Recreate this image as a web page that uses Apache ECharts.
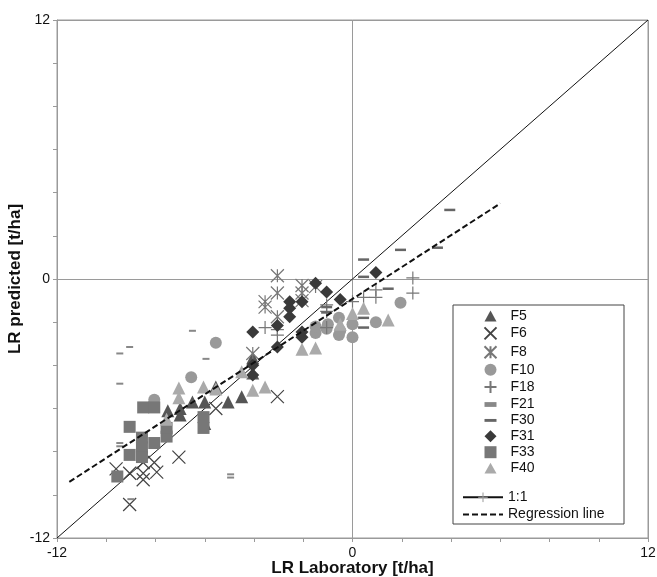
<!DOCTYPE html>
<html>
<head>
<meta charset="utf-8">
<script src="https://cdn.jsdelivr.net/npm/echarts@6/dist/echarts.min.js"></script>
<style>
  html, body { margin: 0; padding: 0; background: #fff; }
  #chart { width: 657px; height: 577px; }
</style>
</head>
<body>
<div id="chart"></div>
<script>
// values: [LR laboratory, LR predicted]
var f5 = [[-7.5,-6.1],[-7.0,-6.0],[-7.0,-6.3],[-6.5,-5.7],[-6.0,-5.7],[-6.0,-6.7],[-5.55,-5.0],[-5.05,-5.7],[-4.5,-5.45],[-4.05,-3.65],[-4.05,-4.35]];
var f6 = [[-9.05,-10.45],[-9.05,-9.0],[-8.5,-9.0],[-8.5,-9.3],[-8.05,-8.5],[-8.5,-8.5],[-7.95,-8.95],[-7.05,-8.25],[-5.55,-6.0],[-3.05,-5.45],[-9.6,-8.8]];
var f8 = [[-3.05,0.15],[-3.05,-0.65],[-3.55,-1.05],[-3.55,-1.3],[-2.05,-0.3],[-2.05,-0.65],[-1.5,-0.35],[-3.05,-1.75],[-4.05,-3.45],[-2.05,-1.0]];
var f10 = [[-5.55,-2.95],[-6.55,-4.55],[-8.05,-5.6],[-1.5,-2.5],[-1.05,-2.3],[-0.55,-1.8],[-0.55,-2.6],[0,-2.1],[0,-2.7],[0.95,-2.0],[1.95,-1.1],[-1.0,-2.1],[-0.5,-2.4],[-1.5,-2.2]];
var f18 = [[-3.55,-2.25],[-3.05,-2.35],[-1.05,-1.2],[-1.05,-1.5],[-1.05,-2.25],[0,-1.05],[0.45,-0.85],[0.95,-0.5],[0.95,-0.85],[2.45,0.05],[2.45,-0.65],[-3.05,-2.6]];
var f21 = [[-9.05,-3.15],[-9.45,-3.45],[-9.45,-4.85],[-5.95,-3.7],[-6.5,-2.4],[-9.45,-7.6],[-9.45,-7.75],[-4.95,-9.05],[-4.95,-9.2],[-9.0,-10.2]];
var f30 = [[0.45,0.9],[0.45,0.1],[1.95,1.35],[3.45,1.45],[1.45,-0.45],[0.45,-1.8],[0.45,-2.25],[-1.05,-1.3],[-1.05,-1.55],[3.95,3.2]];
var f31 = [[-1.5,-0.2],[-1.05,-0.6],[-0.5,-0.95],[-2.55,-1.05],[-2.55,-1.35],[-2.55,-1.75],[-2.05,-1.05],[-3.05,-2.15],[-4.05,-2.45],[-2.05,-2.45],[-2.05,-2.7],[-3.05,-3.15],[-4.05,-4.0],[-4.05,-4.45],[0.95,0.3]];
var f33 = [[-8.5,-5.95],[-8.05,-5.95],[-9.05,-6.85],[-8.55,-7.35],[-8.55,-7.8],[-8.55,-8.25],[-8.05,-7.6],[-7.55,-7.3],[-7.55,-6.9],[-9.05,-8.15],[-9.55,-9.15],[-6.05,-6.4],[-6.05,-6.9]];
var f40 = [[-2.05,-3.25],[-1.5,-3.2],[0,-1.6],[0.45,-1.35],[1.45,-1.9],[-0.5,-2.1],[-7.05,-5.05],[-7.05,-5.5],[-6.05,-5.0],[-5.55,-5.1],[-4.5,-4.3],[-4.05,-5.15],[-3.55,-5.0],[-7.55,-6.5]];
var oneToOne = [[-12,-12],[12,12]];
var regression = [[-11.5,-9.4],[6.0,3.5]];
var axisLabels = [-12, 0, 12];

var font = '"Liberation Sans", Arial, sans-serif';

var crossPath = 'path://M0,0L10,10M10,0L0,10';
var starPath = 'path://M0,0L10,10M10,0L0,10M5,0L5,10';
var plusPath = 'path://M5,0L5,10M0,5L10,5';
var triPath = 'path://M5,0L10,9L0,9Z';
var diaPath = 'path://M5,0L10,5L5,10L0,5Z';
var sqPath = 'path://M0,0L10,0L10,10L0,10Z';
var dashSmall = 'path://M0,0L5,0L5,2L0,2Z';
var dashLong = 'path://M0,0L10,0L10,2.4L0,2.4Z';

function scatter(name, data, symbol, size, color, stroke) {
  return {
    name: name,
    type: 'scatter',
    data: data,
    symbol: symbol,
    symbolSize: size,
    itemStyle: stroke
      ? { color: 'none', borderColor: color, borderWidth: 1.2, opacity: 1 }
      : { color: color, opacity: 1 }
  };
}

// main axis: ticks every 2, labels only at -12 / 0 / 12
function mainAxis(name, gap, margin) {
  return {
    type: 'value', min: -12, max: 12, interval: 2,
    name: name, nameLocation: 'middle', nameGap: gap, nameMoveOverlap: false,
    nameTextStyle: { fontSize: 17, fontWeight: 'bold', color: '#111', fontFamily: font },
    axisLine: { show: true, onZero: false, lineStyle: { color: '#9a9a9a' } },
    axisTick: { show: true, length: 4, lineStyle: { color: '#9a9a9a' } },
    axisLabel: {
      fontSize: 14, color: '#111', margin: margin,
      formatter: function (v) { return axisLabels.indexOf(v) >= 0 ? String(v) : ''; }
    },
    splitLine: { show: false }
  };
}

// helper axis only for the grey lines through zero
function zeroAxis() {
  return {
    type: 'value', min: -12, max: 12, interval: 12,
    axisLine: { show: false, onZero: false }, axisTick: { show: false }, axisLabel: { show: false },
    splitLine: { show: true, lineStyle: { color: '#9a9a9a', width: 1 } }
  };
}

var chart = echarts.init(document.getElementById('chart'));

chart.setOption({
  animation: false,
  textStyle: { fontFamily: font },
  grid: {
    left: 57, right: 9, top: 20, bottom: 39,
    outerBoundsMode: 'none', containLabel: false,
    show: true, borderColor: '#9a9a9a', borderWidth: 1
  },
  xAxis: [mainAxis('LR Laboratory [t/ha]', 22, 8), zeroAxis()],
  yAxis: [mainAxis('LR predicted [t/ha]', 33, 7), zeroAxis()],
  graphic: [{
    type: 'rect',
    shape: { x: 453, y: 305, width: 171, height: 219 },
    style: { fill: '#fff', stroke: '#444', lineWidth: 1 },
    z: 5
  }],
  legend: [{
    orient: 'vertical',
    left: 482, top: 309, padding: 0,
    itemWidth: 12, itemHeight: 12, itemGap: 1.9,
    textStyle: { fontSize: 14, lineHeight: 14, color: '#111', fontFamily: font, padding: [0, 0, 0, 9] },
    data: [
      { name: 'F5', icon: triPath },
      { name: 'F6', icon: crossPath },
      { name: 'F8', icon: starPath },
      { name: 'F10', icon: 'circle' },
      { name: 'F18', icon: plusPath },
      { name: 'F21', icon: dashSmall },
      { name: 'F30', icon: dashLong },
      { name: 'F31', icon: diaPath },
      { name: 'F33', icon: sqPath },
      { name: 'F40', icon: triPath }
    ],
    z: 10
  }, {
    orient: 'vertical',
    left: 462, top: 490, padding: 0,
    itemWidth: 40, itemHeight: 12, itemGap: 2.8,
    textStyle: { fontSize: 14, lineHeight: 14, color: '#111', fontFamily: font },
    data: [
      { name: '1:1', itemStyle: { color: 'none', borderColor: '#999', borderWidth: 1 } },
      { name: 'Regression line', itemStyle: { opacity: 0 } }
    ],
    z: 10
  }],
  series: [
    {
      name: '1:1', type: 'line', data: oneToOne,
      symbol: plusPath, symbolSize: 6, showSymbol: false,
      lineStyle: { color: '#111', width: 1 },
      itemStyle: { color: '#999' },
      z: 1
    },
    {
      name: 'Regression line', type: 'line', data: regression,
      symbol: 'none',
      lineStyle: { color: '#111', width: 2, type: [6, 3] },
      itemStyle: { color: '#111' },
      z: 4
    },
    scatter('F5', f5, 'triangle', 13, '#555555', false),
    scatter('F6', f6, crossPath, 13, '#444444', true),
    scatter('F8', f8, starPath, 13, '#777777', true),
    scatter('F10', f10, 'circle', 12, '#999999', false),
    scatter('F18', f18, plusPath, 13, '#777777', true),
    scatter('F21', f21, 'rect', [7, 2], '#888888', false),
    scatter('F30', f30, 'rect', [11, 2.5], '#666666', false),
    scatter('F31', f31, 'diamond', 13, '#3a3a3a', false),
    scatter('F33', f33, 'rect', 12, '#777777', false),
    scatter('F40', f40, 'triangle', 13, '#aaaaaa', false)
  ]
});
</script>
</body>
</html>
